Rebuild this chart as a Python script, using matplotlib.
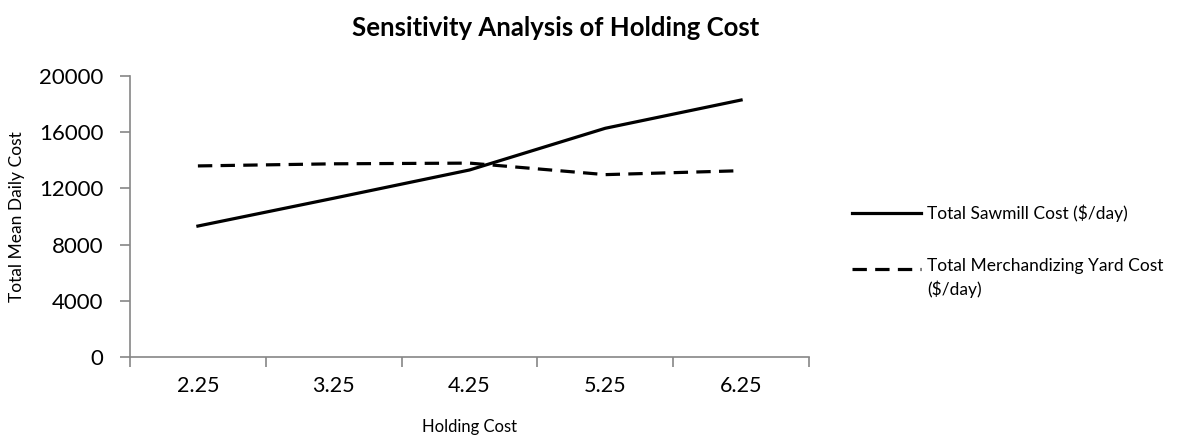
import matplotlib
matplotlib.use("Agg")
import matplotlib.pyplot as plt
from matplotlib.lines import Line2D

holding_cost = ["2.25", "3.25", "4.25", "5.25", "6.25"]
sawmill_cost = [9320, 11300, 13310, 16280, 18290]
yard_cost = [13600, 13750, 13800, 12980, 13260]

plt.rcParams['font.family'] = ['Lato', 'DejaVu Sans']

fig = plt.figure(figsize=(12, 4.41), dpi=100)
ax = fig.add_axes([130 / 1200, 1 - 357 / 441, 679 / 1200, 281 / 441])

x = range(len(holding_cost))
ax.plot(x, sawmill_cost, color="black", lw=2.3, solid_joinstyle="round")
ax.plot(x, yard_cost, color="black", lw=2.3, dashes=(4.5, 2.6))

ax.set_xlim(-0.5, len(holding_cost) - 0.5)
ax.set_ylim(0, 20000)
ax.set_yticks([0, 4000, 8000, 12000, 16000, 20000])
ax.set_xticks(list(x))
ax.set_xticklabels(holding_cost)
ax.set_xticks([i - 0.5 for i in range(len(holding_cost) + 1)], minor=True)
ax.tick_params(axis="x", which="major", length=0, labelsize=15.5, pad=14)
ax.tick_params(axis="x", which="minor", length=7, color="#868686", width=1.2)
ax.tick_params(axis="y", length=7, color="#868686", width=1.2, labelsize=16, pad=12)

for side in ["top", "right"]:
    ax.spines[side].set_visible(False)
for side in ["left", "bottom"]:
    ax.spines[side].set_color("#868686")
    ax.spines[side].set_linewidth(1.2)

ax.set_xlabel("Holding Cost", fontsize=12, labelpad=16)
ax.set_ylabel("Total Mean Daily Cost", fontsize=12.5, labelpad=10)
fig.text(556 / 1200, 1 - 28 / 441, "Sensitivity Analysis of Holding Cost",
         ha="center", va="center", fontsize=18.5, fontweight="bold")

# legend drawn by hand so the dashed key sits level with the first text line
fig.add_artist(Line2D([852 / 1200, 921 / 1200], [1 - 213 / 441] * 2,
                      color="black", lw=2.3, transform=fig.transFigure))
fig.add_artist(Line2D([852 / 1200, 921 / 1200], [1 - 269 / 441] * 2,
                      color="black", lw=2.3, dashes=(4.5, 2.6),
                      transform=fig.transFigure))
fig.text(927 / 1200, 1 - 213 / 441, "Total Sawmill Cost ($/day)",
         ha="left", va="center", fontsize=12.5)
fig.text(927 / 1200, 1 - 258 / 441, "Total Merchandizing Yard Cost\n($/day)",
         ha="left", va="top", fontsize=12.5, linespacing=1.45)

fig.savefig("out.png", dpi=100)
